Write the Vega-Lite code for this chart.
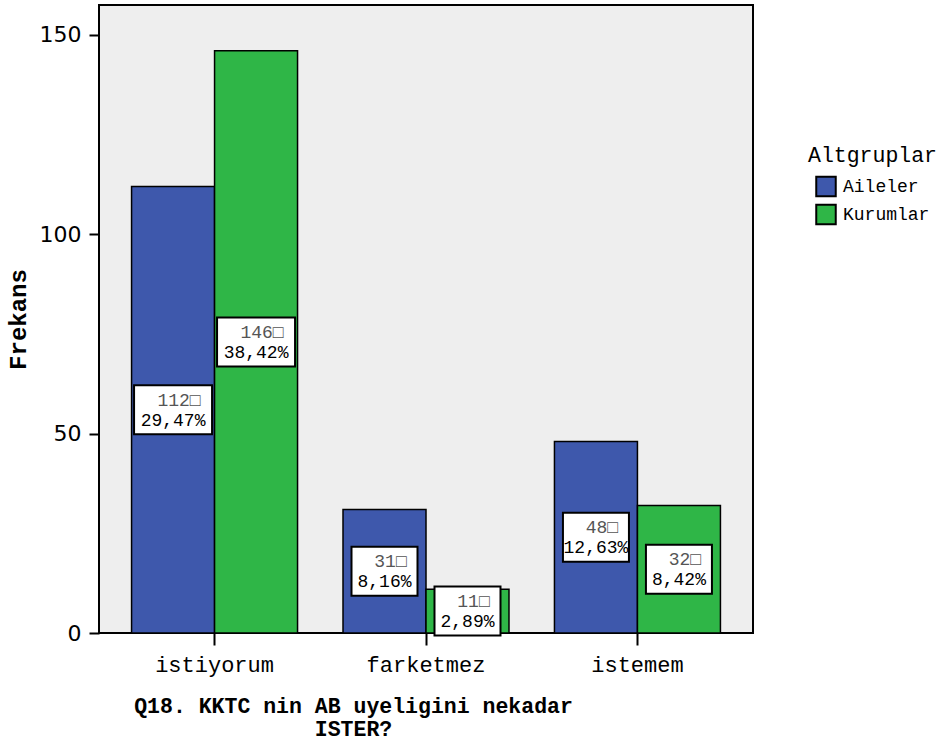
{
  "$schema": "https://vega.github.io/schema/vega-lite/v6.json",
  "autosize": "none",
  "width": 654,
  "height": 628,
  "padding": {"left": 99, "top": 5, "right": 189, "bottom": 110},
  "background": "white",
  "config": {
    "view": {"fill": "#EEEEEE", "stroke": "black", "strokeWidth": 2},
    "axis": {"domain": false, "grid": false, "tickColor": "black", "tickWidth": 2, "labelColor": "black", "titleColor": "black"}
  },
  "data": {
    "values": [
      {"cevap": "istiyorum", "grup": "Aileler", "frekans": 112, "l1": "112□", "l2": "29,47%"},
      {"cevap": "istiyorum", "grup": "Kurumlar", "frekans": 146, "l1": "146□", "l2": "38,42%"},
      {"cevap": "farketmez", "grup": "Aileler", "frekans": 31, "l1": "31□", "l2": "8,16%"},
      {"cevap": "farketmez", "grup": "Kurumlar", "frekans": 11, "l1": "11□", "l2": "2,89%"},
      {"cevap": "istemem", "grup": "Aileler", "frekans": 48, "l1": "48□", "l2": "12,63%"},
      {"cevap": "istemem", "grup": "Kurumlar", "frekans": 32, "l1": "32□", "l2": "8,42%"}
    ]
  },
  "transform": [{"calculate": "datum.frekans / 2", "as": "orta"}],
  "encoding": {
    "x": {
      "field": "cevap", "type": "nominal", "sort": ["istiyorum", "farketmez", "istemem"],
      "scale": {"paddingInner": 0.215, "paddingOuter": 0.154},
      "axis": {
        "labelAngle": 0, "labelFont": "Liberation Mono", "labelFontSize": 22, "tickSize": 12, "labelPadding": 9,
        "title": ["Q18. KKTC nin AB uyeligini nekadar", "ISTER?"],
        "titleFont": "Liberation Mono", "titleFontSize": 21.5, "titleFontWeight": "bold", "titleLineHeight": 23,
        "titleAnchor": "start", "titleAlign": "center", "titleX": 254, "titlePadding": 20
      }
    },
    "xOffset": {"field": "grup", "type": "nominal", "scale": {"paddingInner": 0, "paddingOuter": 0}}
  },
  "layer": [
    {
      "mark": {"type": "bar", "stroke": "black", "strokeWidth": 1.5, "opacity": 1},
      "encoding": {
        "y": {
          "field": "frekans", "type": "quantitative",
          "scale": {"domain": [0, 157.5], "nice": false},
          "axis": {
            "values": [0, 50, 100, 150], "labelFont": "DejaVu Sans", "labelFontSize": 22, "tickSize": 10, "labelPadding": 8,
            "title": "Frekans", "titleFont": "Liberation Mono", "titleFontSize": 24, "titleFontWeight": "bold", "titlePadding": 9
          }
        },
        "fill": {
          "field": "grup", "type": "nominal",
          "scale": {"domain": ["Aileler", "Kurumlar"], "range": ["#3E58AC", "#2FB647"]},
          "legend": {
            "title": "Altgruplar", "orient": "none", "legendX": 709, "legendY": 140,
            "titleFont": "Liberation Mono", "titleFontSize": 21.5, "titleFontWeight": "normal", "titlePadding": 9,
            "labelFont": "Liberation Mono", "labelFontSize": 18, "labelOffset": 6,
            "symbolType": "square", "symbolSize": 380, "symbolStrokeColor": "black", "symbolStrokeWidth": 2,
            "symbolOffset": 7, "rowPadding": 0, "padding": 0
          }
        }
      }
    },
    {
      "mark": {"type": "point", "filled": true, "fill": "white", "stroke": "black", "strokeWidth": 2, "opacity": 1},
      "encoding": {
        "y": {"field": "orta", "type": "quantitative"},
        "shape": {
          "condition": {"test": "datum.frekans < 100", "value": "M-1,-0.742H1V0.742H-1Z"},
          "value": "M-1,-0.628H1V0.628H-1Z"
        },
        "size": {"condition": {"test": "datum.frekans < 100", "value": 4356}, "value": 6084}
      }
    },
    {
      "mark": {"type": "text", "font": "Liberation Mono", "fontSize": 18, "color": "#555555", "align": "center", "baseline": "middle", "dx": 6, "dy": -9},
      "encoding": {"y": {"field": "orta", "type": "quantitative"}, "text": {"field": "l1"}}
    },
    {
      "mark": {"type": "text", "font": "Liberation Mono", "fontSize": 18, "color": "black", "align": "center", "baseline": "middle", "dy": 11},
      "encoding": {"y": {"field": "orta", "type": "quantitative"}, "text": {"field": "l2"}}
    }
  ]
}
